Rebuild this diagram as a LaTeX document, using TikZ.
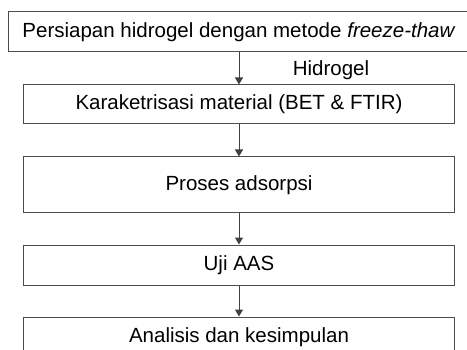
\documentclass[tikz,border=0pt]{standalone}
\usepackage{fontspec}
\setmainfont{Liberation Sans}
\usetikzlibrary{positioning, arrows.meta}

\begin{document}
\begin{tikzpicture}[
	every step/.style={rectangle, draw=black!70, line width=1pt, font=\fontsize{20.5}{24}\selectfont, inner sep=0pt},
	flow/.style={draw=black!75, line width=1pt, -{Triangle[width=8pt,length=7pt]}},
	x=1pt,
	y=1pt,
	node distance=32pt
]
\useasboundingbox (0,0) rectangle (467,349);

\node[every step/.try, minimum width=462pt, minimum height=40pt] (prep) at (239,317) {Persiapan hidrogel dengan metode \textit{freeze-thaw}};
\node[every step/.try, minimum width=431pt, minimum height=39pt, below=of prep] (karak) {Karaketrisasi material (BET \& FTIR)};
\node[every step/.try, minimum width=431pt, minimum height=56pt, below=of karak] (adsorp) {Proses adsorpsi};
\node[every step/.try, minimum width=431pt, minimum height=40pt, below=31pt of adsorp] (aas) {Uji AAS};
\node[every step/.try, minimum width=431pt, minimum height=40pt, below=31pt of aas] (analisis) {Analisis dan kesimpulan};

\draw[flow] (prep) -- (karak) node[pos=0.55, right=50pt, font=\fontsize{20.5}{24}\selectfont] (hidro) {Hidrogel};
\draw[flow] (karak) -- (adsorp);
\draw[flow] (adsorp) -- (aas);
\draw[flow] (aas) -- (analisis);

\end{tikzpicture}
\end{document}
